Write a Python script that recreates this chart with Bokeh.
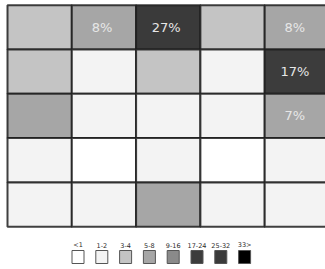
from bokeh.plotting import figure
from bokeh.models import Range1d, ColumnDataSource
from bokeh.core.properties import value
from bokeh.embed import file_html
from bokeh.resources import INLINE

# ---- data ----
rows = [0, 1, 2, 3, 4]
cols = [0, 1, 2, 3, 4]
# percentage per cell (row-major, top row first)
values = [
    [3, 8, 27, 4, 8],
    [3, 2, 4, 1, 17],
    [6, 2, 1, 2, 7],
    [1, 0, 2, 0, 1],
    [2, 1, 6, 2, 1],
]
bin_labels = ["<1", "1-2", "3-4", "5-8", "9-16", "17-24", "25-32", "33>"]
bin_upper = [1, 3, 5, 9, 17, 25, 33, 1000]
bin_colors = ["#ffffff", "#f3f3f3", "#c4c4c4", "#a6a6a6", "#8a8a8a", "#3c3c3c", "#3a3a3a", "#000000"]
label_threshold = 7


def color_for(v):
    for up, c in zip(bin_upper, bin_colors):
        if v < up:
            return c
    return bin_colors[-1]


xs, ys, fills, txt_x, txt_y, txt = [], [], [], [], [], []
for r in rows:
    for c in cols:
        v = values[r][c]
        xs.append(c + 0.5)
        ys.append(r + 0.5)
        fills.append(color_for(v))
        if v >= label_threshold:
            txt_x.append(c + 0.5)
            txt_y.append(r + 0.5)
            txt.append(f"{v}%")

W, H = 325, 269
colw, rowh = 64.3, 44.3
# grid's top-left corner sits at (7, 4.7) px within the picture
x0 = -7.0 / colw
y0 = -4.7 / rowh

p = figure(width=W, height=H, output_backend="svg", toolbar_location=None,
           x_range=Range1d(x0, x0 + W / colw), y_range=Range1d(y0 + H / rowh, y0),
           min_border=0, outline_line_color=None)
p.axis.visible = False
p.grid.visible = False

src = ColumnDataSource(dict(x=xs, y=ys, fill=fills))
p.rect("x", "y", width=1, height=1, source=src, fill_color="fill",
       line_color="#1e1e1e", line_width=2, line_alpha=0.85)

p.text(txt_x, txt_y, text=txt, text_color="#e6e6e6", text_font=value("DejaVu Sans"),
       text_font_size="13px", text_align="center", text_baseline="middle",
       x_offset=-2, y_offset=0)

# legend (square centres ~ 77.5 + 23.8*i px, labels above)
leg_start = (77.5 - 7.0) / colw
leg_step = 23.8 / colw
lx = [leg_start + i * leg_step for i in range(len(bin_labels))]
ly_sq = [(256.5 - 4.7) / rowh] * len(bin_labels)
ly_tx = [(244.5 - 4.7) / rowh] * len(bin_labels)
p.rect(lx, ly_sq, width=12, height=13, width_units="screen", height_units="screen",
       fill_color=bin_colors, line_color="#555555", line_width=1)
p.text(lx, ly_tx, text=bin_labels, text_color="#2a2a2a", text_font=value("DejaVu Sans"),
       text_font_size="6.5px", text_align="center", text_baseline="middle")

open("out.html", "w").write(file_html(p, INLINE))
